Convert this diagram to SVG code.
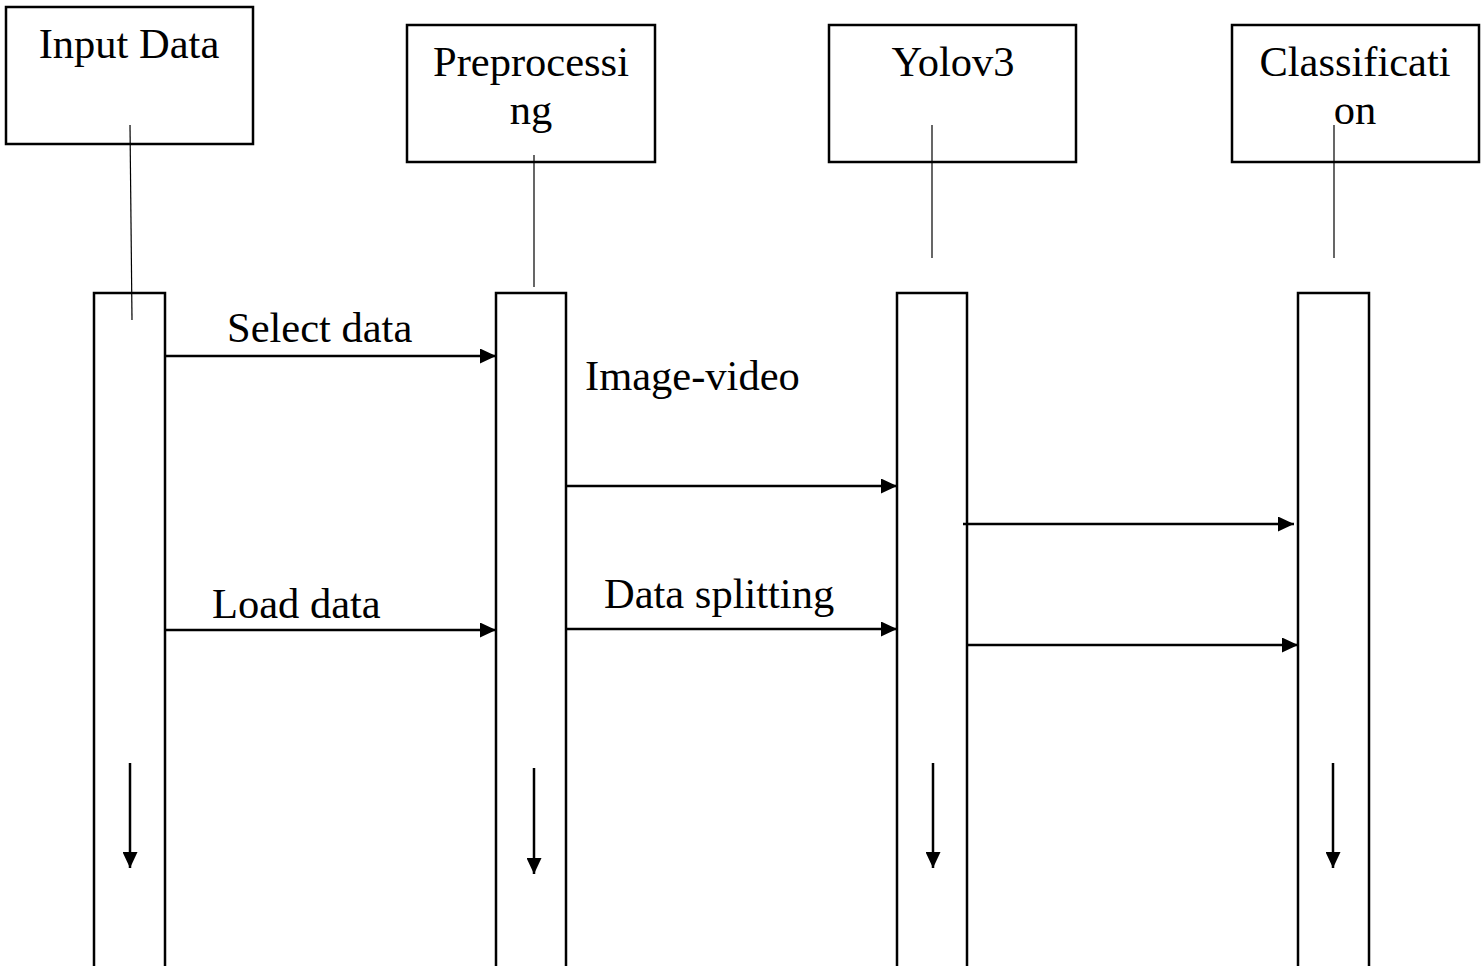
<svg xmlns="http://www.w3.org/2000/svg" width="1484" height="966" viewBox="0 0 1484 966">
  <style>
    .box { fill: #ffffff; stroke: #000000; stroke-width: 2.5; }
    .life { stroke: #000000; stroke-width: 1.2; fill: none; }
    .msg { stroke: #000000; stroke-width: 2.5; fill: none; marker-end: url(#head); }
    .down { stroke: #000000; stroke-width: 2.5; fill: none; marker-end: url(#head); }
    text { font-family: "Liberation Serif", "Times New Roman", serif; font-size: 42.5px; fill: #000000; }
    .c { text-anchor: middle; }
  </style>
  <defs>
    <marker id="head" viewBox="0 0 16 15" refX="16" refY="7.5" markerWidth="16" markerHeight="15" markerUnits="userSpaceOnUse" orient="auto">
      <path d="M0,0 L16,7.5 L0,15 Z" fill="#000000"/>
    </marker>
  </defs>

  <rect width="1484" height="966" fill="#ffffff"/>

  <!-- participant: Input Data -->
  <g id="input-data">
    <rect class="box" x="6" y="7" width="247" height="137"/>
    <text class="c" x="129" y="58">Input Data</text>
    <rect class="box" x="94" y="293" width="71" height="690"/>
    <line class="life" x1="130" y1="125" x2="132" y2="320"/>
    <line class="down" x1="130" y1="763" x2="130" y2="868"/>
  </g>

  <!-- participant: Preprocessing -->
  <g id="preprocessing">
    <rect class="box" x="407" y="25" width="248" height="137"/>
    <text class="c" x="531" y="76">Preprocessi</text>
    <text class="c" x="531" y="124">ng</text>
    <line class="life" x1="534" y1="155" x2="534" y2="287"/>
    <rect class="box" x="496" y="293" width="70" height="690"/>
    <line class="down" x1="534" y1="768" x2="534" y2="874"/>
  </g>

  <!-- participant: Yolov3 -->
  <g id="yolov3">
    <rect class="box" x="829" y="25" width="247" height="137"/>
    <text class="c" x="953" y="76">Yolov3</text>
    <line class="life" x1="932" y1="125" x2="932" y2="258"/>
    <rect class="box" x="897" y="293" width="70" height="690"/>
    <line class="down" x1="933" y1="763" x2="933" y2="868"/>
  </g>

  <!-- participant: Classification -->
  <g id="classification">
    <rect class="box" x="1232" y="25" width="247" height="137"/>
    <text class="c" x="1355" y="76">Classificati</text>
    <text class="c" x="1355" y="124">on</text>
    <line class="life" x1="1334" y1="125" x2="1334" y2="258"/>
    <rect class="box" x="1298" y="293" width="71" height="690"/>
    <line class="down" x1="1333" y1="763" x2="1333" y2="868"/>
  </g>

  <!-- messages -->
  <g id="connectors">
    <line class="msg" x1="165" y1="356" x2="496" y2="356"/>
    <line class="msg" x1="566" y1="486" x2="897" y2="486"/>
    <line class="msg" x1="963" y1="524" x2="1294" y2="524"/>
    <line class="msg" x1="165" y1="630" x2="496" y2="630"/>
    <line class="msg" x1="566" y1="629" x2="897" y2="629"/>
    <line class="msg" x1="967" y1="645" x2="1298" y2="645"/>
  </g>

  <!-- message labels -->
  <g id="labels">
    <text x="227" y="342">Select data</text>
    <text x="585" y="390">Image-video</text>
    <text x="212" y="618">Load data</text>
    <text x="604" y="608">Data splitting</text>
  </g>
</svg>
